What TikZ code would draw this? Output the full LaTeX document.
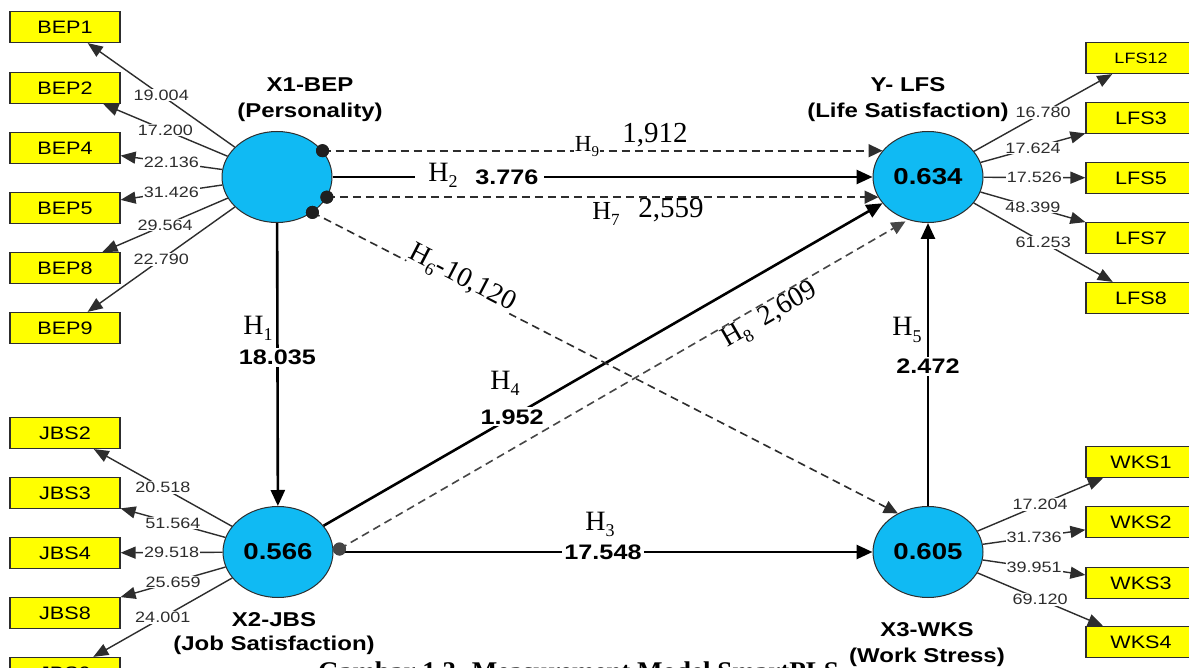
\documentclass[tikz,border=0pt]{standalone}
\usepackage{fontspec}
\setmainfont{Liberation Serif}
\newfontfamily\arx[FakeStretch=1.2]{Liberation Sans}
\usetikzlibrary{arrows.meta,calc,shapes.geometric}
\definecolor{lvfill}{RGB}{16,186,243}
\definecolor{mvfill}{RGB}{255,255,0}
\definecolor{dk}{RGB}{45,45,45}
\definecolor{dkg}{RGB}{70,70,70}
\newcommand\Hsub[2]{H\raisebox{-0.22em}{\fontsize{#2}{#2}\selectfont #1}}
\tikzset{
  lvnode/.style={ellipse, draw=dk, line width=1pt, fill=lvfill, minimum width=110pt, minimum height=91pt, inner sep=0pt, font=\arx\bfseries\fontsize{23}{25}\selectfont},
  mvnode/.style={rectangle, draw=dk, line width=1.2pt, fill=mvfill, minimum width=110pt, minimum height=31pt, inner sep=0pt, font=\arx\fontsize{18}{20}\selectfont},
  ldg/.style={draw=dk, line width=1.4pt, -{Triangle[length=15pt,width=12pt]}},
  ldlab/.style={fill=white, inner sep=1pt, font=\arx\fontsize{15}{17}\selectfont, text=dk},
  strpath/.style={draw=black, line width=2.6pt, -{Triangle[length=16pt,width=14pt]}},
  dshpath/.style={draw=dk, line width=1.6pt, dash pattern=on 8pt off 5pt, -{Triangle[length=14pt,width=13pt]}},
  coef/.style={fill=white, inner sep=2pt, font=\arx\bfseries\fontsize{21}{23}\selectfont},
  hyp/.style={inner sep=1pt, font=\fontsize{28}{30}\selectfont},
  tval/.style={inner sep=0pt, font=\fontsize{29}{31}\selectfont},
  lvlab/.style={align=center, inner sep=1pt, font=\arx\bfseries\fontsize{20}{26}\selectfont},
  dotmark/.style={circle, fill=black!88, inner sep=0pt, minimum size=13pt},
}
\begin{document}
\begin{tikzpicture}[x=1pt,y=-1pt]
\useasboundingbox (0,0) rectangle (1189,668);
\clip (0,0) rectangle (1189,668);
\fill[white] (0,0) rectangle (1189,668);

% caption (cut by the page edge)
\node[anchor=north west, inner sep=0pt, font=\bfseries\fontsize{27}{29}\selectfont] (cap) at (318,662) {Gambar 1.3. Measurement Model SmartPLS};

% latent variables
\node[lvnode] (X1) at (277,177) {};
\node[lvnode] (Y)  at (928,177) {0.634};
\node[lvnode] (X2) at (278,552) {0.566};
\node[lvnode] (X3) at (928,552) {0.605};

% construct labels
\node[lvlab] (X1lab) at (310,100) {X1-BEP\\(Personality)};
\node[lvlab] (Ylab)  at (908,100) {Y- LFS\\(Life Satisfaction)};
\node[lvlab, font=\arx\bfseries\fontsize{20}{24}\selectfont] (X2lab) at (274,634) {X2-JBS\\(Job Satisfaction)};
\node[lvlab, fill=white] (X3lab) at (927,645) {X3-WKS\\(Work Stress)};

% indicators
\foreach \n/\yy in {BEP1/27,BEP2/88,BEP4/148,BEP5/208,BEP8/268,BEP9/328}
  \node[mvnode] (\n) at (65,\yy) {\n};
\foreach \n/\yy in {JBS2/433,JBS3/493,JBS4/553,JBS8/613,JBS9/673}
  \node[mvnode] (\n) at (65,\yy) {\n};
\node[mvnode, font=\arx\fontsize{15}{17}\selectfont] (LFS12) at (1141,58) {LFS12};
\foreach \n/\yy in {LFS3/118,LFS5/178,LFS7/238,LFS8/298}
  \node[mvnode] (\n) at (1141,\yy) {\n};
\foreach \n/\yy in {WKS1/462,WKS2/522,WKS3/583,WKS4/642}
  \node[mvnode] (\n) at (1141,\yy) {\n};

% loadings
\foreach \n/\v in {BEP1/19.004,BEP2/17.200,BEP4/22.136,BEP5/31.426,BEP8/29.564,BEP9/22.790}
  \draw[ldg] (X1) -- node[ldlab]{\v} (\n);
\foreach \n/\v in {JBS2/20.518,JBS3/51.564,JBS4/29.518,JBS8/25.659,JBS9/24.001}
  \draw[ldg] (X2) -- node[ldlab]{\v} (\n);
\foreach \n/\v in {LFS12/16.780,LFS3/17.624,LFS5/17.526,LFS7/48.399,LFS8/61.253}
  \draw[ldg] (Y) -- node[ldlab]{\v} (\n);
\foreach \n/\v in {WKS1/17.204,WKS2/31.736,WKS3/39.951,WKS4/69.120}
  \draw[ldg] (X3) -- node[ldlab]{\v} (\n);

% dots on the source ellipses
\node[dotmark] (d9) at (X1.30) {};
\node[dotmark] (d7) at (X1.-22) {};
\node[dotmark] (d6) at (X1.-45) {};
\node[dotmark, fill=dkg] (d8) at ($(X2.east)+(6,-3)$) {};

% structural paths
\draw[strpath] (X1) -- node[coef, pos=0.474] {18.035} (X2);
\draw[strpath] (X3) -- node[coef, pos=0.494] {2.472} (Y);
\draw[strpath] (X1) -- node[coef, inner xsep=6pt, pos=0.323] {3.776} (Y);
\draw[strpath] (X2) -- node[coef, pos=0.5] {17.548} (X3);
\draw[strpath] (X2) -- node[coef, pos=0.3375] {1.952} (Y);

\draw[dshpath] (d9.center) -- ($(d9.center -| Y.center)+(-45.5,0)$);
\draw[dshpath] (d7.center) -- ($(d7.center -| Y.center)+(-49.5,0)$);
\draw[dshpath] (d6.center) -- (X3.128);
\draw[dshpath, draw=dkg, shorten >=3pt] (d8.center) -- (Y.245);

% redraw dots on top of the lines
\node[dotmark] at (d9) {};
\node[dotmark] at (d7) {};
\node[dotmark] at (d6) {};
\node[dotmark, fill=dkg] at (d8) {};

% hypothesis labels
\node[hyp] (h1) at (258,328) {\Hsub{1}{18}};
\node[hyp] (h5) at (907,330) {\Hsub{5}{18}};
\node[hyp, fill=white, inner xsep=13pt] (h2) at (443,175) {\Hsub{2}{18}};
\node[hyp] (h3) at (600,524) {\Hsub{3}{18}};
\node[hyp] (h4) at (505,383) {\Hsub{4}{18}};
\node[hyp, fill=white, font=\fontsize{23}{25}\selectfont] (h9) at (587,147) {\Hsub{9}{15}};
\node[tval] (t9) at (655,135) {1,912};
\node[hyp, fill=white, font=\fontsize{26}{28}\selectfont] (h7) at (606,214) {\Hsub{7}{17}};
\node[tval] (t7) at (671,210) {2,559};
\node[hyp, fill=white, inner sep=0pt, rotate=-27.4] (h6) at (462,279) {\Hsub{6}{18}-10,120};
\node[hyp, inner sep=0pt, rotate=30] (h8) at (770,316) {\Hsub{8}{18}\ \ 2,609};
\end{tikzpicture}
\end{document}
